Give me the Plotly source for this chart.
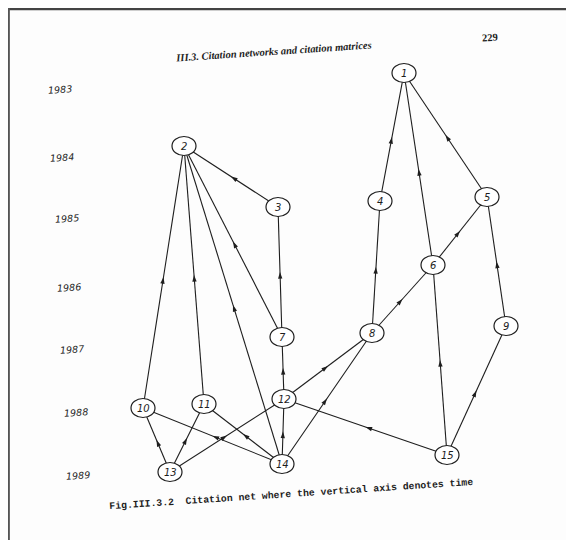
import math
import plotly.graph_objects as go

# ---------------- data ----------------
node_ids = ["1", "2", "3", "4", "5", "6", "7", "8", "9", "10", "11", "12", "13", "14", "15"]
node_x = [404, 184, 278, 380, 487, 433, 282, 372, 506, 143, 204, 284, 170, 282, 447]
node_y = [73, 146, 207, 201, 197, 265, 337, 333, 326, 408, 404, 399, 472, 464, 455]

# citing paper -> cited paper
edge_src = [4, 6, 5, 3, 7, 10, 11, 14, 7, 8, 6, 9, 8, 15, 12, 12, 14, 15, 13, 14, 13, 14, 13, 14, 15]
edge_dst = [1, 1, 1, 2, 2, 2, 2, 2, 3, 4, 5, 5, 6, 6, 7, 8, 8, 9, 10, 10, 11, 11, 12, 12, 12]

year_labels = ["1983", "1984", "1985", "1986", "1987", "1988", "1989"]
year_x = [60, 62, 67, 69, 72, 76, 78]
year_y = [89, 157, 218, 287, 349, 412, 475]

header_text = "III.3. Citation networks and citation matrices"
page_number = "229"
caption_text = "Fig.III.3.2\u00a0\u00a0Citation net where the vertical axis denotes time"

# ---------------- styling ----------------
W, H = 574, 540
OFF = 8          # page offset of the figure inside the browser window
INK = "#1e1e1e"
RX, RY = 12, 9.5
TILT = -3.8

fig = go.Figure()

# edges
ex, ey = [], []
for s, d in zip(edge_src, edge_dst):
    ex += [node_x[s - 1], node_x[d - 1], None]
    ey += [node_y[s - 1], node_y[d - 1], None]
fig.add_trace(go.Scatter(x=ex, y=ey, mode="lines",
                         line=dict(color=INK, width=1.1),
                         hoverinfo="skip", showlegend=False))

# arrowheads at the middle of each edge, pointing to the cited paper
ax_, ay_, ang = [], [], []
for s, d in zip(edge_src, edge_dst):
    x0, y0 = node_x[s - 1], node_y[s - 1]
    x1, y1 = node_x[d - 1], node_y[d - 1]
    ax_.append(x0 + 0.5 * (x1 - x0))
    ay_.append(y0 + 0.5 * (y1 - y0))
    ang.append(math.degrees(math.atan2(x1 - x0, -(y1 - y0))))
fig.add_trace(go.Scatter(x=ax_, y=ay_, mode="markers",
                         marker=dict(symbol="arrow", size=7, angle=ang,
                                     color=INK, line=dict(width=0)),
                         hoverinfo="skip", showlegend=False))

# nodes: ellipses + labels
shapes = []
for x, y in zip(node_x, node_y):
    shapes.append(dict(type="circle", xref="x", yref="y",
                       x0=x - RX, x1=x + RX, y0=y - RY, y1=y + RY,
                       fillcolor="white", line=dict(color=INK, width=1.2),
                       layer="above"))

# frame of the scan
shapes.append(dict(type="line", xref="paper", yref="paper", x0=0, x1=1, y0=0.998, y1=0.998,
                   line=dict(color="#444444", width=2.2), layer="above"))
shapes.append(dict(type="line", xref="paper", yref="paper", x0=0.0015, x1=0.0015, y0=0, y1=1,
                   line=dict(color="#555555", width=2), layer="above"))

annotations = []
for lab, x, y in zip(node_ids, node_x, node_y):
    annotations.append(dict(x=x, y=y, xref="x", yref="y", text=lab, showarrow=False,
                            font=dict(family="DejaVu Sans", size=10, color=INK, style="italic"),
                            xanchor="center", yanchor="middle"))

for lab, x, y in zip(year_labels, year_x, year_y):
    annotations.append(dict(x=x, y=y, xref="x", yref="y", text=lab, showarrow=False,
                            font=dict(family="DejaVu Sans", size=9.5, color=INK, style="italic"),
                            xanchor="center", yanchor="middle", textangle=TILT))

annotations.append(dict(x=273, y=51, xref="x", yref="y", text=header_text, showarrow=False,
                        font=dict(family="Liberation Serif", size=10.5, color=INK,
                                  style="italic", weight="bold"),
                        xanchor="center", yanchor="middle", textangle=TILT))
annotations.append(dict(x=490, y=37, xref="x", yref="y", text=page_number, showarrow=False,
                        font=dict(family="Liberation Serif", size=10.5, color=INK, weight="bold"),
                        xanchor="center", yanchor="middle", textangle=TILT))
annotations.append(dict(x=291, y=494, xref="x", yref="y", text=caption_text, showarrow=False,
                        font=dict(family="Liberation Mono", size=9.8, color=INK, weight="bold"),
                        xanchor="center", yanchor="middle", textangle=TILT))

fig.update_layout(
    width=W, height=H,
    margin=dict(l=0, r=0, t=0, b=0),
    paper_bgcolor="#fdfdfd", plot_bgcolor="#fdfdfd",
    xaxis=dict(range=[OFF, W + OFF], visible=False, fixedrange=True),
    yaxis=dict(range=[H + OFF, OFF], visible=False, fixedrange=True),
    shapes=shapes, annotations=annotations,
    showlegend=False,
)

fig.write_html("out.html")
